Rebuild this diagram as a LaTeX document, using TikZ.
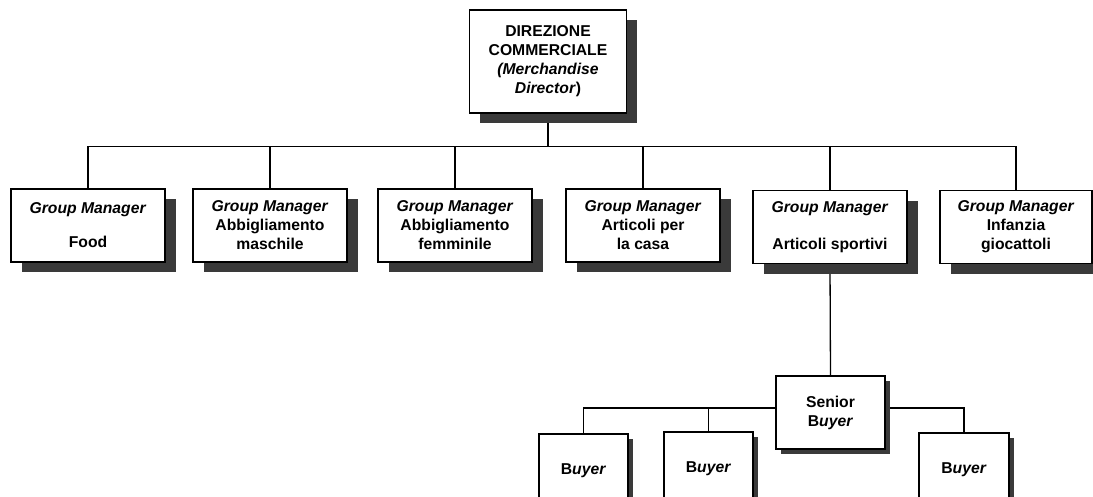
\documentclass[tikz,border=0pt]{standalone}
\usepackage{fontspec}
\setmainfont{Liberation Sans}
\usetikzlibrary{shadows,backgrounds}
\definecolor{shadowgray}{HTML}{3A3A3A}
\tikzset{
  orgbox/.style={draw=black, line width=1.3pt, fill=white, align=center,
    inner sep=0pt, font=\fontsize{15.7}{19}\selectfont\bfseries},
  bigshadow/.style={general shadow={fill=shadowgray, shadow xshift=10.5pt, shadow yshift=-10.5pt}},
  smallshadow/.style={general shadow={fill=shadowgray, shadow xshift=4.5pt, shadow yshift=-4.5pt}},
  mgrbox/.style={orgbox, bigshadow, minimum width=154pt, minimum height=73pt},
  buybox/.style={orgbox, smallshadow, minimum width=89pt, minimum height=73pt},
  link/.style={line width=1.3pt}
}
\begin{document}
\begin{tikzpicture}
\useasboundingbox (0,0) rectangle (1093pt,-497pt);
\clip (0,0) rectangle (1093pt,-497pt);

% director
\node[orgbox, bigshadow, minimum width=157pt, minimum height=103pt] (dir) at (548pt,-61.5pt)
  {DIREZIONE\\COMMERCIALE\\\textit{(Merchandise}\\\textit{Director})};

% group managers
\node[mgrbox] (g1) at (88pt,-225.5pt) {\textit{Group Manager}\\[15pt]Food};
\node[mgrbox] (g2) at (270pt,-225.5pt) {\textit{Group Manager}\\Abbigliamento\\maschile};
\node[mgrbox] (g3) at (455pt,-225.5pt) {\textit{Group Manager}\\Abbigliamento\\femminile};
\node[mgrbox] (g4) at (643pt,-225.5pt) {\textit{Group Manager}\\Articoli per\\la casa};
\node[mgrbox] (g5) at (830pt,-227pt) {\textit{Group Manager}\\[18pt]Articoli sportivi};
\node[mgrbox, minimum width=152pt] (g6) at (1016pt,-227pt) {\textit{Group Manager}\\Infanzia\\giocattoli};

% buyers
\node[orgbox, smallshadow, minimum width=109pt, minimum height=73pt] (sb) at (830.5pt,-412.5pt)
  {Senior\\B\textit{uyer}};
\node[buybox] (b1) at (583.5pt,-470.5pt) {B\textit{uyer}};
\node[buybox] (b2) at (708.5pt,-468.5pt) {B\textit{uyer}};
\node[buybox, minimum width=90pt] (b3) at (964pt,-469.5pt) {B\textit{uyer}};

% connectors
\begin{pgfonlayer}{background}
\draw[link] (dir.south) -- ++(0,-33pt) coordinate (bus);
\draw[link] (g1.north) |- (bus) -| (g6.north);
\foreach \g in {g2,g3,g4,g5}
  \draw[link] (\g.north) -- (\g.north |- bus);
\draw[link] (g5.south) -- (sb.north);
\draw[link] ([yshift=4.5pt]sb.west) -| (b1.north);
\draw[link] (b2.north) |- ([yshift=4.5pt]sb.west);
\draw[link] ([yshift=4.5pt]sb.east) -| (b3.north);
\end{pgfonlayer}
\end{tikzpicture}
\end{document}
